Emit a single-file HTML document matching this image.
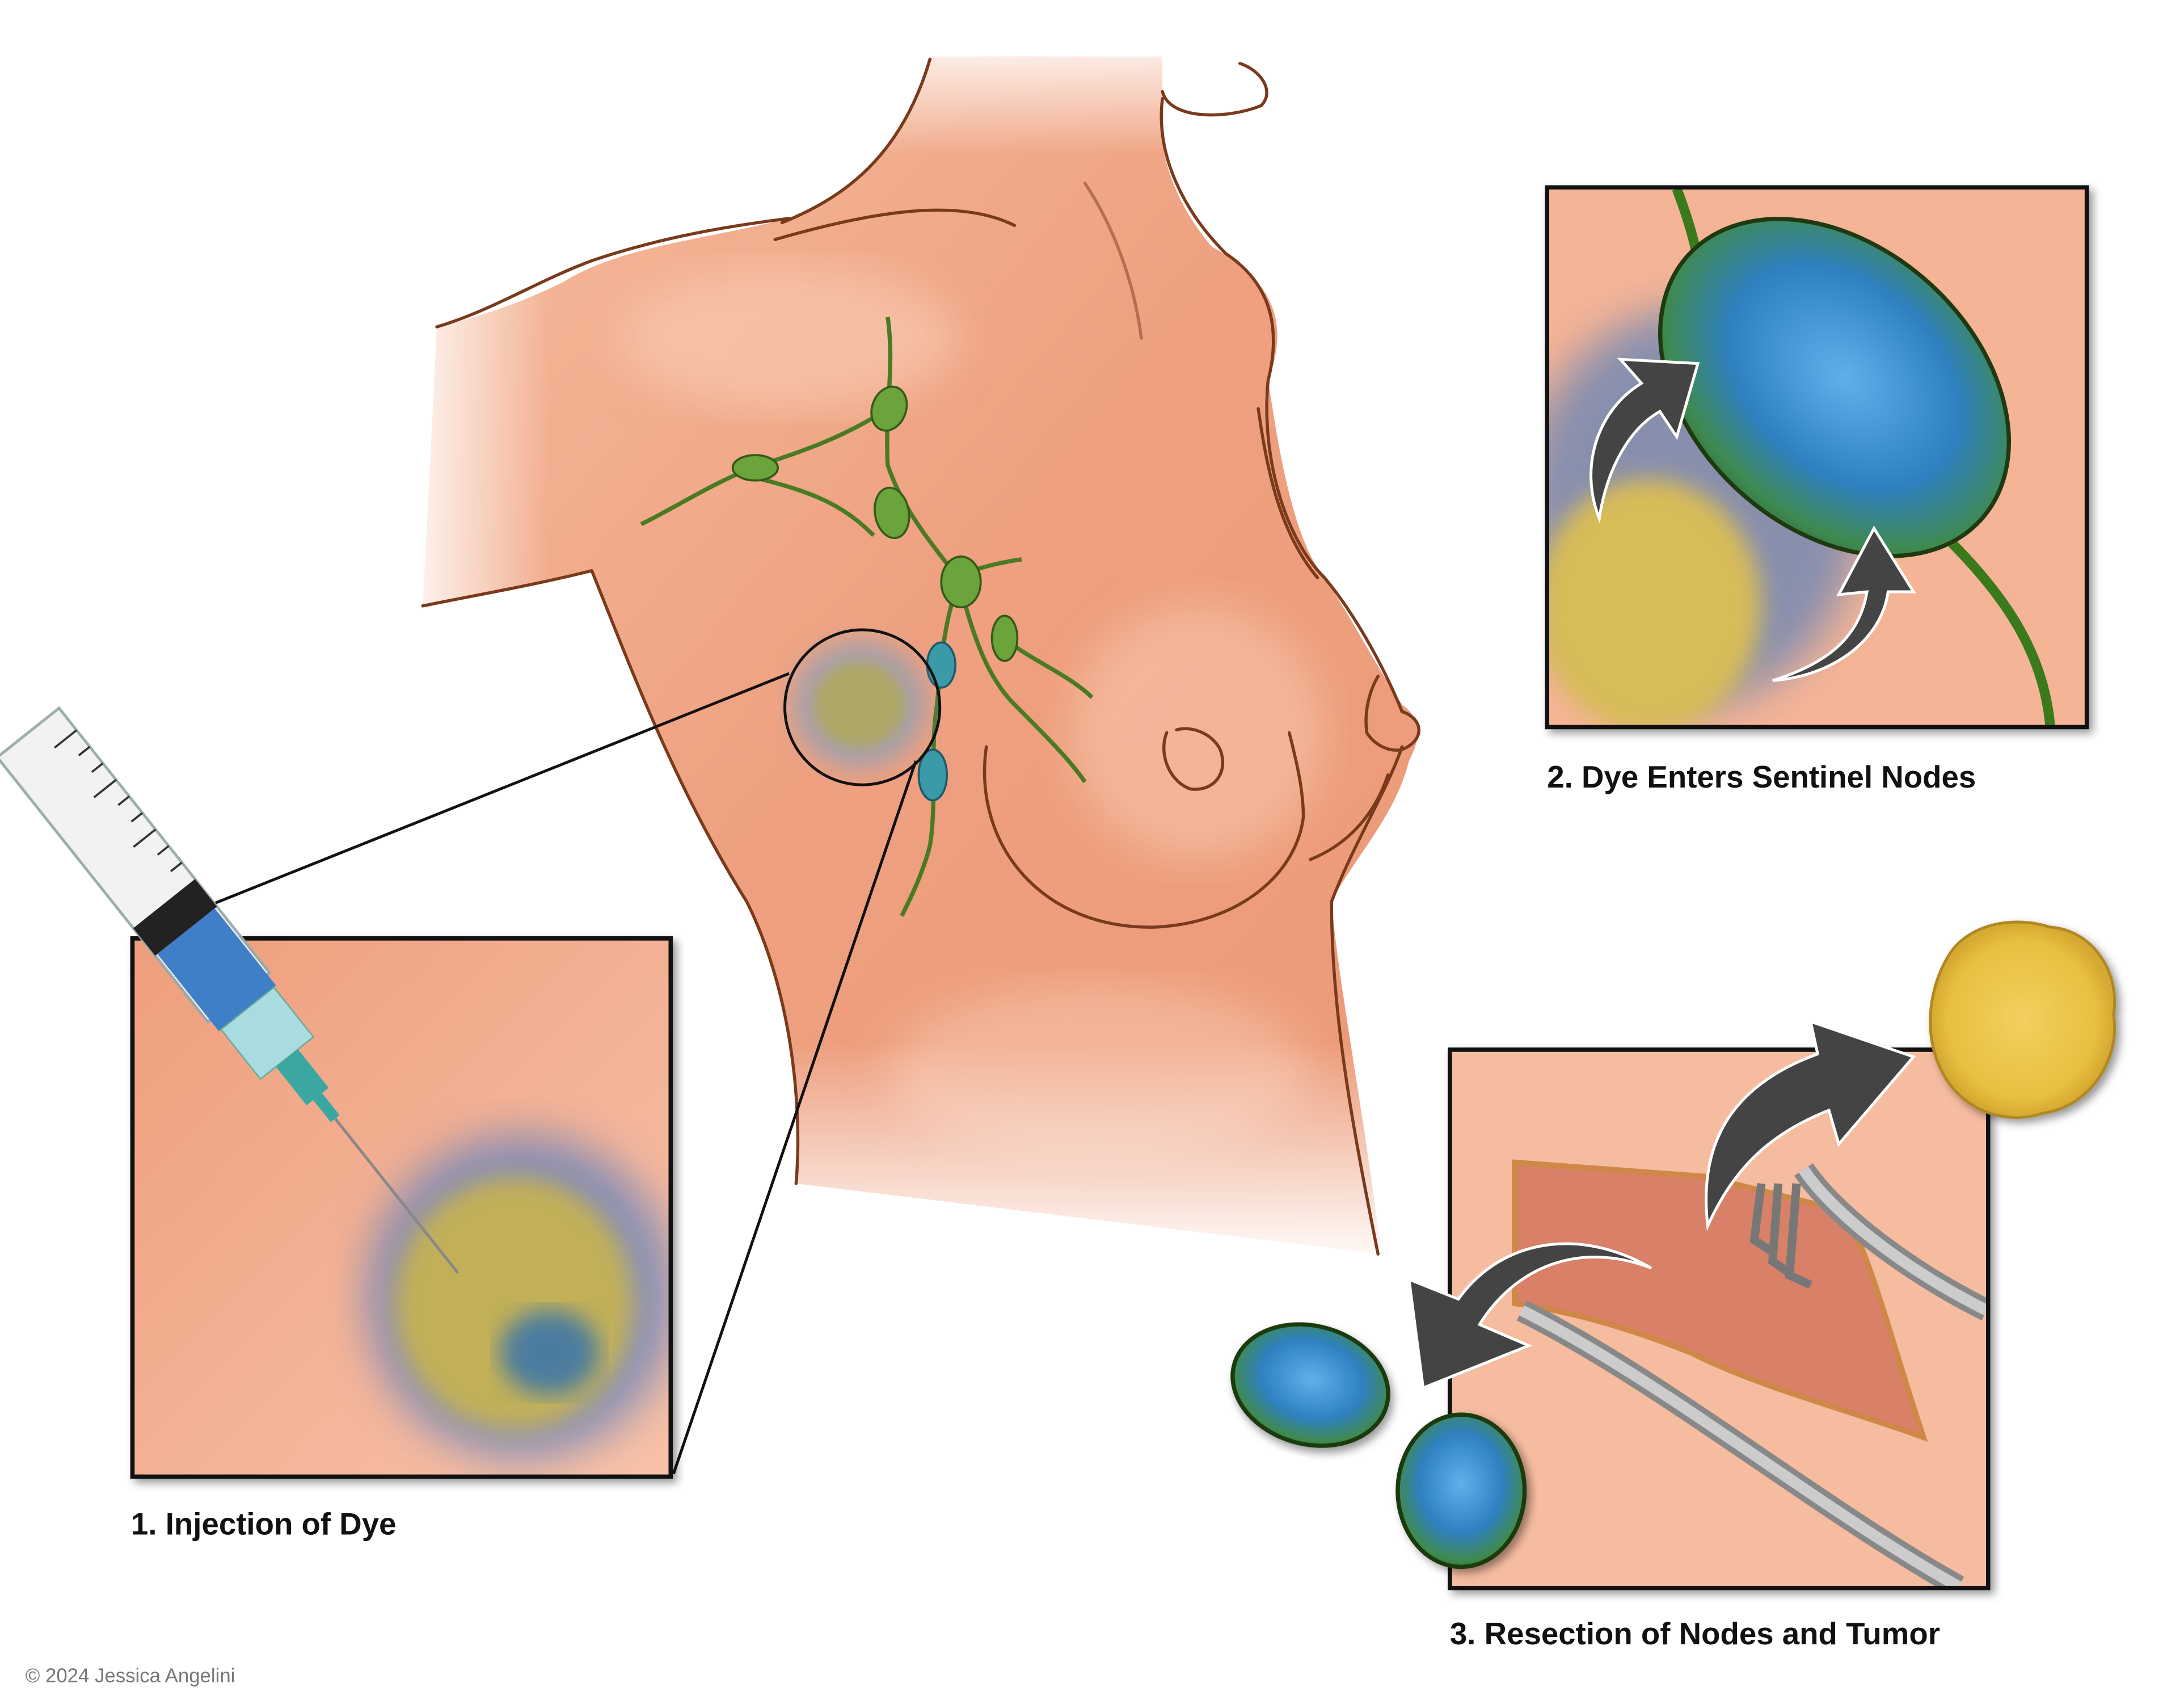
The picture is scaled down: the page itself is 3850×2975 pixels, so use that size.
<!DOCTYPE html>
<html><head><meta charset="utf-8"><style>
html,body{margin:0;padding:0;background:#fff;}
svg{display:block;}
text{font-family:"Liberation Sans",Arial,sans-serif;}
</style></head><body>
<svg width="3850" height="2975" viewBox="0 0 1550 1198" preserveAspectRatio="none" xmlns="http://www.w3.org/2000/svg">
<defs>
<linearGradient id="skin" x1="0" y1="0" x2="1" y2="1">
<stop offset="0" stop-color="#f6bc9e"/><stop offset="0.5" stop-color="#eea080"/><stop offset="1" stop-color="#ec9a78"/>
</linearGradient>
<linearGradient id="fadeB" x1="0" y1="0" x2="0" y2="1">
<stop offset="0" stop-color="#fff" stop-opacity="0"/><stop offset="1" stop-color="#fff" stop-opacity="1"/>
</linearGradient>
<linearGradient id="fadeT" x1="0" y1="1" x2="0" y2="0">
<stop offset="0" stop-color="#fff" stop-opacity="0"/><stop offset="1" stop-color="#fff" stop-opacity="1"/>
</linearGradient>
<linearGradient id="fadeL" x1="1" y1="0" x2="0" y2="0">
<stop offset="0" stop-color="#fff" stop-opacity="0"/><stop offset="1" stop-color="#fff" stop-opacity="1"/>
</linearGradient>
<radialGradient id="node" cx="0.5" cy="0.45" r="0.6">
<stop offset="0" stop-color="#5fb0ea"/><stop offset="0.55" stop-color="#2f80c0"/><stop offset="0.85" stop-color="#3f8a50"/><stop offset="1" stop-color="#2e6a3a"/>
</radialGradient>
<radialGradient id="yel" cx="0.5" cy="0.5" r="0.5">
<stop offset="0" stop-color="#f2d060"/><stop offset="0.8" stop-color="#e8c040"/><stop offset="1" stop-color="#d4a830"/>
</radialGradient>
<filter id="blur8"><feGaussianBlur stdDeviation="8"/></filter>
<filter id="blur4"><feGaussianBlur stdDeviation="4"/></filter>
<filter id="blur15"><feGaussianBlur stdDeviation="15"/></filter>
<filter id="sh"><feDropShadow dx="3" dy="3" stdDeviation="3" flood-color="#000" flood-opacity="0.4"/></filter>
<linearGradient id="inset" x1="0" y1="0" x2="1" y2="1">
<stop offset="0" stop-color="#ee9e7c"/><stop offset="0.6" stop-color="#f4b498"/><stop offset="1" stop-color="#f7c2a8"/>
</linearGradient>
</defs>

<!-- torso -->
<path d="M660 40 C640 110 600 140 560 155 C500 170 440 175 400 200 C370 215 340 225 310 232 L300 432 C350 420 390 410 420 405 C450 480 480 560 530 640 C560 700 570 780 565 840 L980 890 C970 800 950 700 945 640 C960 610 990 580 1000 540 C1010 520 1008 510 995 500 C975 470 960 440 940 410 C915 380 905 300 900 270 C915 230 905 200 860 175 C830 140 820 100 825 70 L825 40 Z" fill="url(#skin)"/>
<ellipse cx="560" cy="240" rx="120" ry="50" fill="#f9cdb4" opacity="0.6" filter="url(#blur15)"/>
<ellipse cx="850" cy="520" rx="90" ry="90" fill="#f9cdb4" opacity="0.5" filter="url(#blur15)"/>
<ellipse cx="780" cy="760" rx="150" ry="60" fill="#f7c4aa" opacity="0.6" filter="url(#blur15)"/>
<rect x="280" y="200" width="110" height="260" fill="url(#fadeL)"/>
<rect x="520" y="740" width="480" height="160" fill="url(#fadeB)"/>
<rect x="600" y="20" width="300" height="90" fill="url(#fadeT)"/>
<rect x="600" y="0" width="300" height="40" fill="#fff"/>

<g fill="none" stroke="#7a3a1c" stroke-width="2.2" stroke-linecap="round">
<path d="M660 42 C640 110 600 140 555 158"/>
<path d="M310 232 C350 220 380 200 420 185 C470 168 520 160 560 155"/>
<path d="M300 430 C340 422 380 415 420 405"/>
<path d="M420 405 C450 480 480 560 530 640 C560 700 570 780 565 840"/>
<path d="M825 65 C830 85 870 85 895 75 C905 65 895 50 880 45"/>
<path d="M825 70 C820 110 840 150 870 180 C900 200 910 230 900 270 C895 320 910 380 940 410 C965 440 985 480 995 505"/>
<path d="M995 530 C985 560 960 600 945 640 C945 720 960 800 978 890"/>
<path d="M700 530 C690 600 740 660 820 658 C880 655 920 620 925 580 C925 560 920 540 915 520"/>
<path d="M893 290 C900 340 910 380 935 410"/>
<path d="M995 505 C1010 510 1012 525 995 532 C985 534 975 528 970 520 C968 505 972 490 978 480"/>
<path d="M930 610 C955 600 975 580 985 550"/>
<path d="M828 520 C822 535 830 555 845 560 C862 562 872 548 866 532 C860 520 845 515 835 518"/>
<path d="M550 170 C620 150 680 140 720 160"/>
<path d="M770 130 C790 160 805 200 810 240" opacity="0.5"/>
</g>

<g fill="none" stroke="#4a7a24" stroke-width="3">
<path d="M630 225 C635 260 628 290 630 330 C640 360 660 385 680 410 C690 450 700 480 720 500 C740 520 760 540 770 555"/>
<path d="M630 290 C600 310 570 320 540 330 C510 340 480 360 455 372"/>
<path d="M540 340 C580 350 600 360 620 380"/>
<path d="M680 415 C670 440 668 470 665 500 C660 530 665 570 660 600 C655 620 645 640 640 650"/>
<path d="M690 405 C705 400 718 398 725 397"/>
<path d="M715 455 C735 470 760 480 775 495"/>
</g>
<g stroke="#355a18" stroke-width="1.5" fill="#6aa43a">
<ellipse cx="631" cy="290" rx="12" ry="16" transform="rotate(20 631 290)"/>
<ellipse cx="536" cy="332" rx="16" ry="9"/>
<ellipse cx="633" cy="364" rx="12" ry="18" transform="rotate(-10 633 364)"/>
<ellipse cx="682" cy="413" rx="14" ry="18"/>
<ellipse cx="713" cy="453" rx="9" ry="16"/>
</g>
<g stroke="#1f5a6a" stroke-width="1.5" fill="#3a9aa8">
<ellipse cx="668" cy="472" rx="10" ry="16"/>
<ellipse cx="662" cy="550" rx="10" ry="18"/>
</g>

<ellipse cx="610" cy="500" rx="48" ry="46" fill="#7aa0c0" opacity="0.6" filter="url(#blur8)"/>
<ellipse cx="610" cy="500" rx="32" ry="30" fill="#b0a860" opacity="0.9" filter="url(#blur4)"/>
<circle cx="612" cy="502" r="55" fill="none" stroke="#111" stroke-width="2"/>
<line x1="560" y1="478" x2="140" y2="646" stroke="#111" stroke-width="2"/>
<line x1="650" y1="540" x2="478" y2="1046" stroke="#111" stroke-width="2"/>

<g filter="url(#sh)">
<rect x="94" y="666" width="382" height="382" fill="url(#inset)" stroke="#111" stroke-width="3"/>
</g>
<svg x="95" y="667" width="380" height="380" viewBox="95 667 380 380">
<ellipse cx="370" cy="920" rx="110" ry="115" fill="#5a7ec0" opacity="0.7" filter="url(#blur15)"/>
<ellipse cx="365" cy="925" rx="85" ry="90" fill="#c8b450" opacity="0.9" filter="url(#blur8)"/>
<ellipse cx="390" cy="960" rx="35" ry="30" fill="#2f70b0" opacity="0.8" filter="url(#blur8)"/>
</svg>
<rect x="94" y="666" width="382" height="382" fill="none" stroke="#111" stroke-width="3"/>

<g transform="translate(20 520) rotate(51.5)">
<rect x="0" y="-28" width="240" height="56" fill="#f2f2f2" stroke="#9aa" stroke-width="2" opacity="0.95"/>
<rect x="155" y="-28" width="25" height="56" fill="#222"/>
<rect x="180" y="-26" width="70" height="52" fill="#3f7fc8"/>
<rect x="250" y="-24" width="45" height="48" fill="#a8dce0" stroke="#6a9" stroke-width="1"/>
<rect x="295" y="-10" width="35" height="20" fill="#3aa8a0"/>
<rect x="330" y="-4" width="20" height="8" fill="#3aa8a0"/>
<line x1="350" y1="0" x2="490" y2="0" stroke="#888" stroke-width="2"/>
<g stroke="#333" stroke-width="1.5">
<line x1="20" y1="-28" x2="20" y2="-8"/><line x1="35" y1="-28" x2="35" y2="-18"/><line x1="50" y1="-28" x2="50" y2="-18"/><line x1="65" y1="-28" x2="65" y2="-8"/><line x1="80" y1="-28" x2="80" y2="-18"/><line x1="95" y1="-28" x2="95" y2="-18"/><line x1="110" y1="-28" x2="110" y2="-8"/><line x1="125" y1="-28" x2="125" y2="-18"/><line x1="140" y1="-28" x2="140" y2="-18"/>
</g>
</g>

<g filter="url(#sh)">
<rect x="1098" y="133" width="383" height="383" fill="#f2b090" stroke="#111" stroke-width="3"/>
</g>
<svg x="1099" y="134" width="381" height="381" viewBox="1099 134 381 381">
<rect x="1099" y="134" width="381" height="381" fill="#f5b496"/>
<ellipse cx="1200" cy="360" rx="120" ry="140" fill="#5a80b8" opacity="0.7" filter="url(#blur15)"/>
<ellipse cx="1170" cy="430" rx="80" ry="90" fill="#d8bc58" filter="url(#blur8)"/>
<path d="M1190 134 C1200 160 1205 180 1210 210" stroke="#3a7a1c" stroke-width="7" fill="none"/>
<path d="M1380 380 C1420 420 1450 460 1455 515" stroke="#3a7a1c" stroke-width="7" fill="none"/>
<ellipse cx="1302" cy="275" rx="140" ry="100" transform="rotate(42 1302 275)" fill="url(#node)" stroke="#1f3a10" stroke-width="3"/>
<path d="M1135 368 C1120 330 1135 290 1165 272 L1150 255 L1205 258 L1190 310 L1178 292 C1155 305 1140 335 1135 368 Z" fill="#444" stroke="#fff" stroke-width="2"/>
<path d="M1258 483 C1300 470 1320 450 1325 420 L1305 422 L1330 375 L1358 420 L1340 420 C1335 455 1300 480 1258 483 Z" fill="#444" stroke="#fff" stroke-width="2"/>
</svg>
<rect x="1098" y="133" width="383" height="383" fill="none" stroke="#111" stroke-width="3"/>

<g filter="url(#sh)">
<rect x="1029" y="745" width="382" height="382" fill="#f5b89c" stroke="#111" stroke-width="3"/>
</g>
<svg x="1030" y="746" width="380" height="380" viewBox="1030 746 380 380">
<rect x="1030" y="746" width="380" height="380" fill="#f6bca0"/>
<path d="M1075 825 L1210 835 L1310 860 C1330 900 1345 960 1365 1020 C1310 1000 1250 985 1200 960 C1150 940 1110 930 1075 925 Z" fill="#d88068" stroke="#d08848" stroke-width="4"/>
<path d="M1080 930 C1180 980 1290 1070 1390 1126" stroke="#888" stroke-width="16" fill="none"/>
<path d="M1080 930 C1180 980 1290 1070 1390 1126" stroke="#ccc" stroke-width="8" fill="none"/>
<path d="M1410 930 C1350 900 1300 860 1280 830" stroke="#888" stroke-width="16" fill="none"/>
<path d="M1410 930 C1350 900 1300 860 1280 830" stroke="#ccc" stroke-width="8" fill="none"/>
<g stroke="#777" stroke-width="6" fill="none"><path d="M1250 840 L1245 880 L1260 890"/><path d="M1262 840 L1258 895 L1272 905"/><path d="M1275 840 L1270 905 L1285 912"/></g>
</svg>
<rect x="1029" y="745" width="382" height="382" fill="none" stroke="#111" stroke-width="3"/>
<path d="M1212 870 C1205 810 1230 770 1290 748 L1285 725 L1358 750 L1305 812 L1298 788 C1255 805 1230 830 1212 870 Z" fill="#444" stroke="#fff" stroke-width="2"/>
<path d="M1172 900 C1120 880 1075 900 1050 940 L1085 955 L1010 985 L1000 908 L1035 922 C1065 880 1120 870 1172 900 Z" fill="#444" stroke="#fff" stroke-width="2"/>
<path d="M1385 675 C1400 655 1430 650 1455 658 C1485 660 1505 690 1500 720 C1505 750 1485 785 1450 790 C1420 800 1390 785 1378 760 C1365 735 1368 700 1385 675 Z" fill="url(#yel)" stroke="#b08820" stroke-width="2" filter="url(#sh)"/>
<ellipse cx="930" cy="983" rx="56" ry="42" transform="rotate(15 930 983)" fill="url(#node)" stroke="#1f3a10" stroke-width="3" filter="url(#sh)"/>
<ellipse cx="1037" cy="1058" rx="45" ry="54" fill="url(#node)" stroke="#1f3a10" stroke-width="3" filter="url(#sh)"/>

<text x="93" y="1089" font-size="22" font-weight="bold" fill="#111">1. Injection of Dye</text>
<text x="1098" y="559" font-size="22" font-weight="bold" fill="#111">2. Dye Enters Sentinel Nodes</text>
<text x="1029" y="1167" font-size="22" font-weight="bold" fill="#111">3. Resection of Nodes and Tumor</text>
<text x="18" y="1194" font-size="14" fill="#777">© 2024 Jessica Angelini</text>
</svg>
</body></html>
